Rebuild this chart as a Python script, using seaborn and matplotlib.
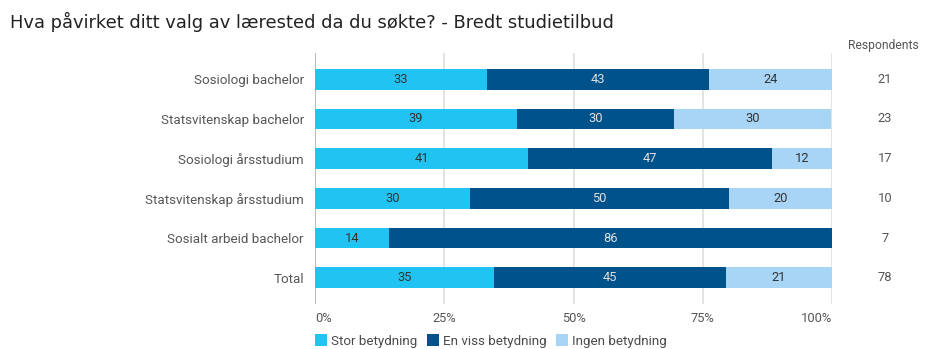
import math
import matplotlib
matplotlib.use("Agg")
import matplotlib.pyplot as plt
import matplotlib.transforms as mtransforms
from matplotlib.patches import Patch
import numpy as np
import pandas as pd
import seaborn as sns

# Study programmes and their answer shares (percent)
programmes = [
    "Sosiologi bachelor",
    "Statsvitenskap bachelor",
    "Sosiologi årsstudium",
    "Statsvitenskap årsstudium",
    "Sosialt arbeid bachelor",
    "Total",
]
stor = [33.3, 39.1, 41.2, 30.0, 14.3, 34.6]
viss = [42.9, 30.4, 47.1, 50.0, 85.7, 44.9]
ingen = [23.8, 30.4, 11.8, 20.0, 0.0, 20.51]
respondents = [21, 23, 17, 10, 7, 78]

series_names = ["Stor betydning", "En viss betydning", "Ingen betydning"]
series_colors = ["#21c3f2", "#00528a", "#a8d4f5"]
label_colors = ["#333333", "#e0e0e0", "#333333"]
xticks = [0, 25, 50, 75, 100]
xtick_labels = ["0%", "25%", "50%", "75%", "100%"]
title = "Hva påvirket ditt valg av lærested da du søkte? - Bredt studietilbud"

sns.set_theme(style="white")
plt.rcParams["font.family"] = ["Roboto", "DejaVu Sans"]

W, H = 927, 349
fig = plt.figure(figsize=(W / 100, H / 100), dpi=100)
ax = fig.add_axes([315 / W, 1 - 304 / H, 517 / W, (304 - 53) / H])

df = pd.DataFrame({"programme": programmes, "s1": stor, "s2": viss, "s3": ingen})
df["c1"] = df["s1"]
df["c2"] = df["s1"] + df["s2"]
df["c3"] = df["c2"] + df["s3"]

# stacked bars: draw cumulative totals from the back to the front
for col, color in zip(["c3", "c2", "c1"], series_colors[::-1]):
    sns.barplot(data=df, x=col, y="programme", orient="h", color=color,
                width=0.52, linewidth=0, saturation=1, ax=ax, zorder=3)

# segment value labels
for i in range(len(programmes)):
    left = 0.0
    for vals, lc in zip([stor, viss, ingen], label_colors):
        v = vals[i]
        if v > 0:
            ax.text(left + v / 2, i, str(math.floor(v + 0.5)), ha="center",
                    va="center", fontsize=9.3, color=lc, zorder=5)
        left += v

ax.set_xlim(0, 100)
ax.set_ylim(5.66, -0.66)
ax.set_xticks(xticks)
ax.set_xticklabels(xtick_labels)
ax.set_xlabel("")
ax.set_ylabel("")
for x in xticks:
    ax.axvline(x, color="#aaaaaa" if x == 0 else "#dedede", lw=1.2, zorder=1)
for s in ax.spines.values():
    s.set_visible(False)
ax.tick_params(axis="x", length=0, pad=6, labelsize=9.3, labelcolor="#555555")
ax.tick_params(axis="y", length=0, pad=8, labelsize=9.6, labelcolor="#555555")
xt = ax.get_xticklabels()
xt[0].set_horizontalalignment("left")
xt[-1].set_horizontalalignment("right")

# respondent counts on the right
trans = mtransforms.blended_transform_factory(fig.transFigure, ax.transData)
for i, n in enumerate(respondents):
    ax.text(885 / W, i, str(n), transform=trans, ha="center", va="center",
            fontsize=9.3, color="#555555")
fig.text(883 / W, 1 - 45 / H, "Respondents", ha="center", va="center",
         fontsize=8.7, color="#555555")

fig.text(10 / W, 1 - 22 / H, title, ha="left", va="center", fontsize=12.85,
         color="#222222", family=["DejaVu Sans"])

handles = [Patch(facecolor=c, edgecolor="none", label=n)
           for c, n in zip(series_colors, series_names)]
fig.legend(handles=handles, loc="center left",
           bbox_to_anchor=(315 / W, 1 - 341 / H), ncol=3, frameon=False,
           fontsize=9.6, labelcolor="#4a4a4a", handlelength=0.9,
           handleheight=1.0, handletextpad=0.3, columnspacing=0.7,
           borderpad=0, borderaxespad=0)

fig.savefig("out.png", dpi=100)
